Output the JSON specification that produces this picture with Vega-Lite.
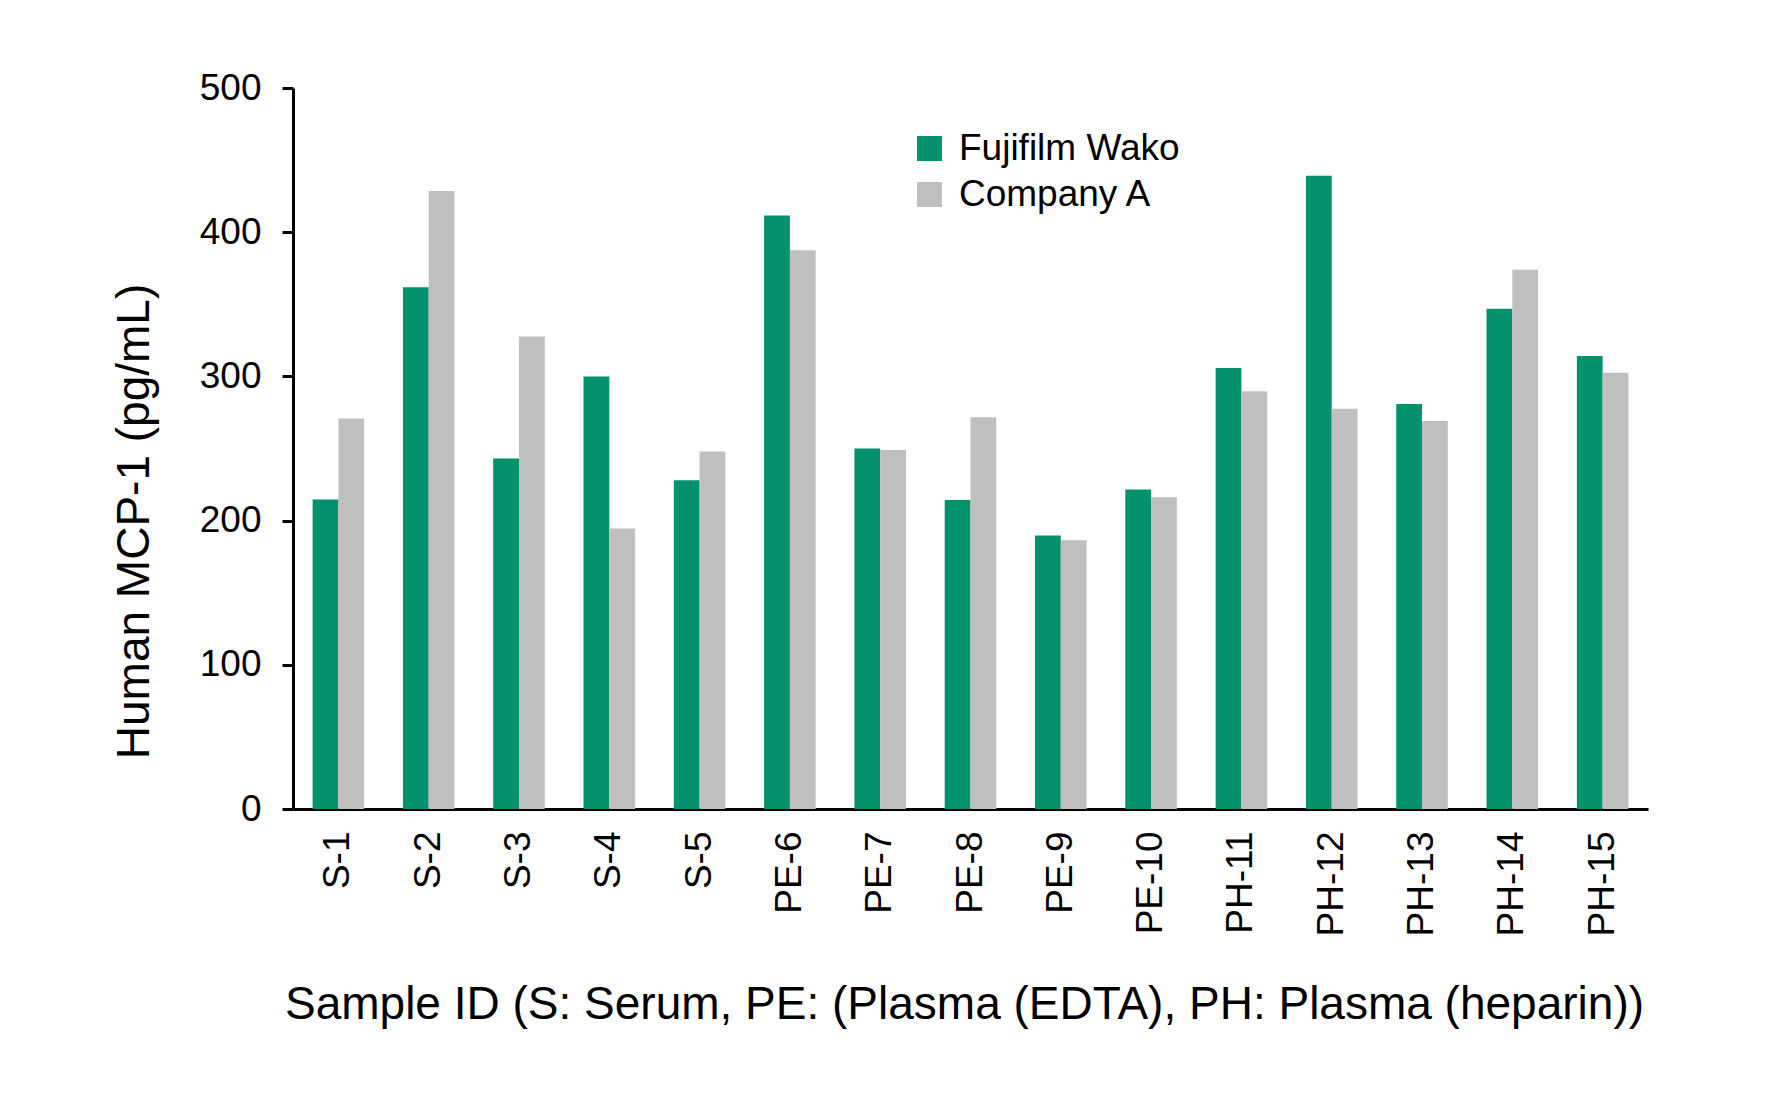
{
  "$schema": "https://vega.github.io/schema/vega-lite/v6.json",
  "autosize": "none",
  "width": 1355,
  "height": 721,
  "padding": {"left": 293, "top": 88, "right": 144, "bottom": 297},
  "background": "white",
  "data": {
    "values": [
      {"sample": "S-1", "kit": "Fujifilm Wako", "value": 214.7},
      {"sample": "S-1", "kit": "Company A", "value": 270.8},
      {"sample": "S-2", "kit": "Fujifilm Wako", "value": 361.8},
      {"sample": "S-2", "kit": "Company A", "value": 428.5},
      {"sample": "S-3", "kit": "Fujifilm Wako", "value": 243.0},
      {"sample": "S-3", "kit": "Company A", "value": 327.6},
      {"sample": "S-4", "kit": "Fujifilm Wako", "value": 300.0},
      {"sample": "S-4", "kit": "Company A", "value": 194.5},
      {"sample": "S-5", "kit": "Fujifilm Wako", "value": 228.0},
      {"sample": "S-5", "kit": "Company A", "value": 248.0},
      {"sample": "PE-6", "kit": "Fujifilm Wako", "value": 411.5},
      {"sample": "PE-6", "kit": "Company A", "value": 387.5},
      {"sample": "PE-7", "kit": "Fujifilm Wako", "value": 250.0},
      {"sample": "PE-7", "kit": "Company A", "value": 249.0},
      {"sample": "PE-8", "kit": "Fujifilm Wako", "value": 214.2},
      {"sample": "PE-8", "kit": "Company A", "value": 271.6},
      {"sample": "PE-9", "kit": "Fujifilm Wako", "value": 189.7},
      {"sample": "PE-9", "kit": "Company A", "value": 186.3},
      {"sample": "PE-10", "kit": "Fujifilm Wako", "value": 221.6},
      {"sample": "PE-10", "kit": "Company A", "value": 216.2},
      {"sample": "PH-11", "kit": "Fujifilm Wako", "value": 305.9},
      {"sample": "PH-11", "kit": "Company A", "value": 289.7},
      {"sample": "PH-12", "kit": "Fujifilm Wako", "value": 439.2},
      {"sample": "PH-12", "kit": "Company A", "value": 277.5},
      {"sample": "PH-13", "kit": "Fujifilm Wako", "value": 280.9},
      {"sample": "PH-13", "kit": "Company A", "value": 269.1},
      {"sample": "PH-14", "kit": "Fujifilm Wako", "value": 347.0},
      {"sample": "PH-14", "kit": "Company A", "value": 374.0},
      {"sample": "PH-15", "kit": "Fujifilm Wako", "value": 314.2},
      {"sample": "PH-15", "kit": "Company A", "value": 302.5}
    ]
  },
  "mark": {"type": "bar"},
  "encoding": {
    "x": {
      "field": "sample",
      "type": "nominal",
      "sort": null,
      "scale": {"paddingInner": 0.429, "paddingOuter": 0.217},
      "axis": {
        "title": "Sample ID (S: Serum, PE: (Plasma (EDTA), PH: Plasma (heparin))",
        "titleX": 671,
        "titleY": 209,
        "titleBaseline": "alphabetic",
        "titleFontSize": 46,
        "labelAngle": -90,
        "labelFontSize": 37,
        "labelPadding": 22,
        "ticks": false,
        "tickSize": 0,
        "domainColor": "black",
        "domainWidth": 3
      }
    },
    "xOffset": {
      "field": "kit",
      "type": "nominal",
      "sort": ["Fujifilm Wako", "Company A"],
      "scale": {"paddingInner": 0, "paddingOuter": 0}
    },
    "y": {
      "field": "value",
      "type": "quantitative",
      "scale": {"domain": [0, 500], "nice": false},
      "axis": {
        "title": "Human MCP-1 (pg/mL)",
        "titleX": -145,
        "titleY": 433,
        "titleAngle": -90,
        "titleAlign": "center",
        "titleBaseline": "alphabetic",
        "titleFontSize": 46,
        "values": [0, 100, 200, 300, 400, 500],
        "labelFontSize": 37,
        "labelPadding": 21,
        "tickSize": 11,
        "tickWidth": 3,
        "tickColor": "black",
        "domainColor": "black",
        "domainWidth": 3,
        "grid": false
      }
    },
    "color": {
      "field": "kit",
      "type": "nominal",
      "scale": {"domain": ["Fujifilm Wako", "Company A"], "range": ["#02916F", "#BFBFBF"]},
      "legend": {
        "title": null,
        "orient": "none",
        "legendX": 618,
        "legendY": 42,
        "padding": 0,
        "symbolType": "square",
        "symbolSize": 625,
        "symbolStrokeWidth": 0,
        "labelFontSize": 37,
        "labelLimit": 0,
        "labelOffset": 11,
        "rowPadding": 8
      }
    }
  },
  "config": {
    "font": "Liberation Sans",
    "view": {"stroke": null},
    "axis": {"labelColor": "black", "titleColor": "black", "titleFontWeight": "normal"},
    "legend": {"labelColor": "black"}
  }
}
